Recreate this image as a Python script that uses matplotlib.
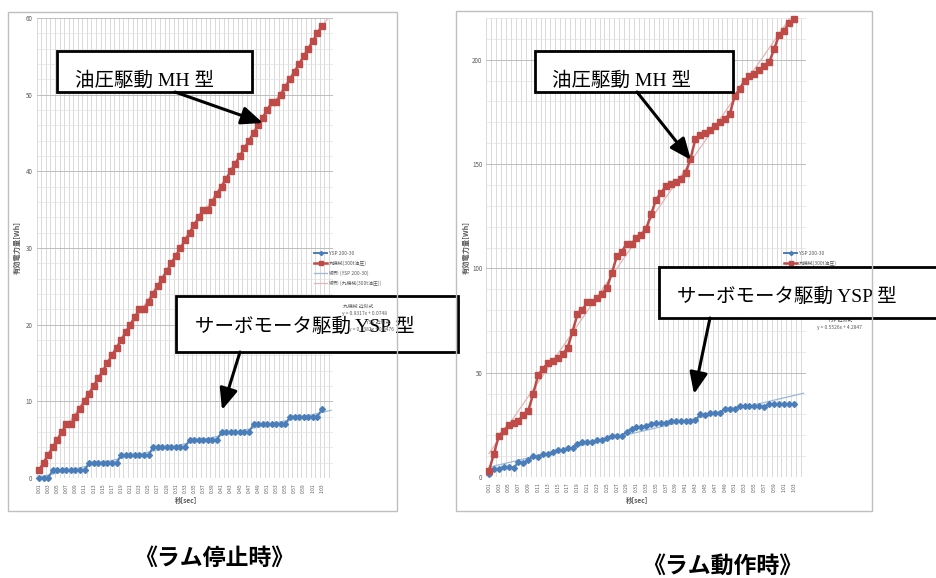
import numpy as np
import matplotlib.pyplot as plt
from matplotlib.patches import Rectangle
from matplotlib.lines import Line2D
from matplotlib.ticker import MultipleLocator

W, H = 937, 578
plt.rcParams['font.family'] = ['Noto Sans CJK JP', 'DejaVu Sans']

# categories 0:01 .. 1:03 (sheet range has two empty rows after the data)
seconds = list(range(1, 64))
time_labels = ['%d:%02d' % (s // 60, s % 60) for s in seconds]
n_cats = 65

# ram stopped  (Wh)
stop_ysp = [0, 0, 0, 1, 1, 1, 1, 1, 1, 1, 1, 2, 2, 2, 2, 2, 2, 2, 3, 3, 3,
            3, 3, 3, 3, 4, 4, 4, 4, 4, 4, 4, 4, 5, 5, 5, 5, 5, 5, 5, 6, 6,
            6, 6, 6, 6, 6, 7, 7, 7, 7, 7, 7, 7, 7, 8, 8, 8, 8, 8, 8, 8, 9]
stop_mh = [1, 2, 3, 4, 5, 6, 7, 7, 8, 9, 10, 11, 12, 13, 14, 15, 16, 17, 18,
           19, 20, 21, 22, 22, 23, 24, 25, 26, 27, 28, 29, 30, 31, 32, 33, 34,
           35, 35, 36, 37, 38, 39, 40, 41, 42, 43, 44, 45, 46, 47, 48, 49, 49,
           50, 51, 52, 53, 54, 55, 56, 57, 58, 59]

# ram moving  (Wh)
run_ysp = [1.5, 3.7, 4.0, 4.8, 4.8, 4.5, 7.0, 6.7, 8.0, 10.1,
           9.7, 10.9, 11.0, 12.0, 12.9, 12.8, 13.8, 13.8, 15.8, 16.9,
           16.8, 16.9, 17.7, 17.7, 18.7, 19.8, 19.8, 19.8, 21.7, 23.0,
           24.0, 24.0, 24.3, 25.4, 26.0, 25.7, 26.0, 26.9, 26.9, 26.9,
           26.9, 26.9, 27.2, 30.1, 29.7, 30.8, 30.8, 30.8, 32.8, 32.8,
           32.8, 34.0, 34.0, 34.0, 34.0, 34.0, 33.7, 35.0, 35.0, 35.0,
           35.0, 35.0, 35.0]
run_mh = [3, 11, 19.7, 22, 25, 26, 27, 29.7, 31.8, 39.8,
          48.9, 51.8, 54.8, 55.8, 56.9, 58.8, 62, 69.7, 78, 80,
          83.8, 83.8, 85.7, 87.8, 90.8, 97.7, 105.7, 107.8, 111.8, 111.8,
          114.5, 116, 119, 126, 133, 136, 139.5, 140.5, 141.5, 143,
          145.6, 152.5, 162, 164, 165, 166.5, 168, 170, 171.7, 174,
          182.7, 186, 190, 192, 193.3, 195, 196.8, 198.7, 205, 211.7,
          213.6, 217.6, 219.5]

legend_labels = ['YSP 200-30', '丸機械(300t油圧)',
                 '線形 (YSP 200-30)', '線形 (丸機械(300t油圧))']

BLUE = '#4A7EBB'
RED = '#BE4B48'
BLUE_TR = '#9DB7D8'
RED_TR = '#E3B4B3'
TXT = '#595959'
BOX_FONT = ['Liberation Serif', 'Noto Sans CJK JP']


def fx(x):
    return x / W


def fy(y):
    return 1 - y / H


def fig_rect(x0, y0, x1, y1):
    return [x0 / W, 1 - y1 / H, (x1 - x0) / W, (y1 - y0) / H]


fig = plt.figure(figsize=(W / 100, H / 100), dpi=100)

# chart area borders
for x0, y0, x1, y1 in [(8, 12, 397, 511), (456, 11, 872, 511)]:
    fig.patches.append(Rectangle((fx(x0), fy(y1)), (x1 - x0) / W, (y1 - y0) / H,
                                 transform=fig.transFigure, fill=False,
                                 edgecolor='#BFBFBF', lw=1))


def draw_chart(rect, ysp, mh, ymax, major, minor, leg_xy, xlab_xy, ylab_xy):
    ax = fig.add_axes(fig_rect(*rect))
    x = np.arange(len(ysp))
    xt = np.arange(n_cats)
    handles = []
    for vals, col, mk, ms, lw in [(ysp, BLUE, 'D', 3.0, 1.4), (mh, RED, 's', 4.2, 1.8)]:
        h, = ax.plot(x, vals, color=col, marker=mk, ms=ms, lw=lw, zorder=4, clip_on=False)
        handles.append(h)
    for vals, col in [(ysp, BLUE_TR), (mh, RED_TR)]:
        slope, icpt = np.polyfit(x + 1, vals, 1)
        h, = ax.plot(xt, slope * (xt + 1) + icpt, color=col, lw=0.9, zorder=3)
        handles.append(h)

    ax.set_xlim(-0.5, n_cats - 0.5)
    ax.set_ylim(0, ymax)
    ax.set_xticks(x[::2])
    ax.set_xticklabels(time_labels[::2], rotation=90)
    ax.set_xticks(np.arange(-0.5, n_cats, 1), minor=True)
    ax.yaxis.set_major_locator(MultipleLocator(major))
    ax.yaxis.set_minor_locator(MultipleLocator(minor))
    ax.tick_params(axis='x', which='both', length=0, pad=4, labelsize=3.5, labelcolor=TXT)
    ax.tick_params(axis='y', which='both', length=0, pad=3, labelsize=4.5, labelcolor=TXT)
    ax.grid(which='minor', axis='y', color='#E2E2E2', lw=0.5)
    ax.grid(which='major', axis='y', color='#BDBDBD', lw=0.7)
    ax.grid(which='minor', axis='x', color='#CACACA', lw=0.5)
    ax.set_axisbelow(True)
    for s in ax.spines.values():
        s.set_visible(False)

    ax.legend(handles, legend_labels, loc='upper left',
              bbox_to_anchor=(fx(leg_xy[0]), fy(leg_xy[1])), bbox_transform=fig.transFigure,
              frameon=False, fontsize=3.5, labelcolor=TXT, handlelength=2.7,
              handletextpad=0.3, labelspacing=0.9, borderpad=0, borderaxespad=0,
              markerscale=0.7)
    fig.text(fx(xlab_xy[0]), fy(xlab_xy[1]), '秒[sec]', ha='center', va='center',
             fontsize=4.8, fontweight='bold', color=TXT)
    fig.text(fx(ylab_xy[0]), fy(ylab_xy[1]), '有効電力量[Wh]', ha='center', va='center',
             rotation=90, fontsize=5.2, fontweight='bold', color=TXT)
    return ax


ax1 = draw_chart((36.7, 18, 333.4, 478), stop_ysp, stop_mh, 60, 10, 2,
                 (314, 251), (186, 500), (17, 247))
ax2 = draw_chart((486.5, 18, 806, 477), run_ysp, run_mh, 220, 50, 10,
                 (784, 251), (637, 500), (466, 247))

# approximation formulas (right one sits under the callout box)
ax2.text(fx(840), fy(320), 'YSP 近似式', transform=fig.transFigure, ha='center',
         va='center', fontsize=3.5, color=TXT, clip_on=False)
ax2.text(fx(840), fy(328), 'y = 0.5526x + 4.2847', transform=fig.transFigure, ha='center',
         va='center', fontsize=3.5, color=TXT, clip_on=False)

# callouts
ov = fig.add_axes([0, 0, 1, 1])
ov.set_xlim(0, W)
ov.set_ylim(H, 0)
ov.axis('off')

boxes = [(57, 51, 252, 92, '油圧駆動 MH 型', 75, 81),
         (176, 296, 458, 352, 'サーボモータ駆動 YSP 型', 195, 327),
         (535, 51, 733, 92, '油圧駆動 MH 型', 552, 81),
         (659, 267, 950, 318, 'サーボモータ駆動 YSP 型', 677, 297)]
for x0, y0, x1, y1, txt, tx, ty in boxes:
    ov.add_patch(Rectangle((x0, y0), x1 - x0, y1 - y0, facecolor='white',
                           edgecolor='black', lw=2, clip_on=False))
    ov.text(tx, ty, txt, ha='left', va='center', fontsize=14, family=BOX_FONT)

arrows = [((175, 92), (263, 123)), ((240, 352), (222, 410)),
          ((637, 92), (691, 160)), ((710, 318), (694, 394))]
for start, tip in arrows:
    ov.annotate('', xy=tip, xytext=start,
                arrowprops=dict(arrowstyle='-|>,head_length=1.0,head_width=0.42',
                                color='black', lw=2.2, mutation_scale=13,
                                shrinkA=0, shrinkB=0))

# left formulas are drawn over the callout box
fig.text(fx(358), fy(306), '丸機械 近似式', ha='center', va='center', fontsize=3.5, color=TXT)
fig.text(fx(364), fy(314), 'y = 0.9317x + 0.0748', ha='center', va='center', fontsize=3.5, color=TXT)
fig.text(fx(378), fy(322), 'YSP 近似式', ha='center', va='center', fontsize=3.5, color=TXT)
fig.text(fx(372), fy(330), 'y = 0.1382x + 0.0476', ha='center', va='center', fontsize=3.5, color=TXT)

fig.text(fx(214), fy(558), '《ラム停止時》', ha='center', va='center', fontsize=16.5, fontweight='bold')
fig.text(fx(722), fy(566), '《ラム動作時》', ha='center', va='center', fontsize=16.5, fontweight='bold')

fig.savefig('out.png', dpi=100)
